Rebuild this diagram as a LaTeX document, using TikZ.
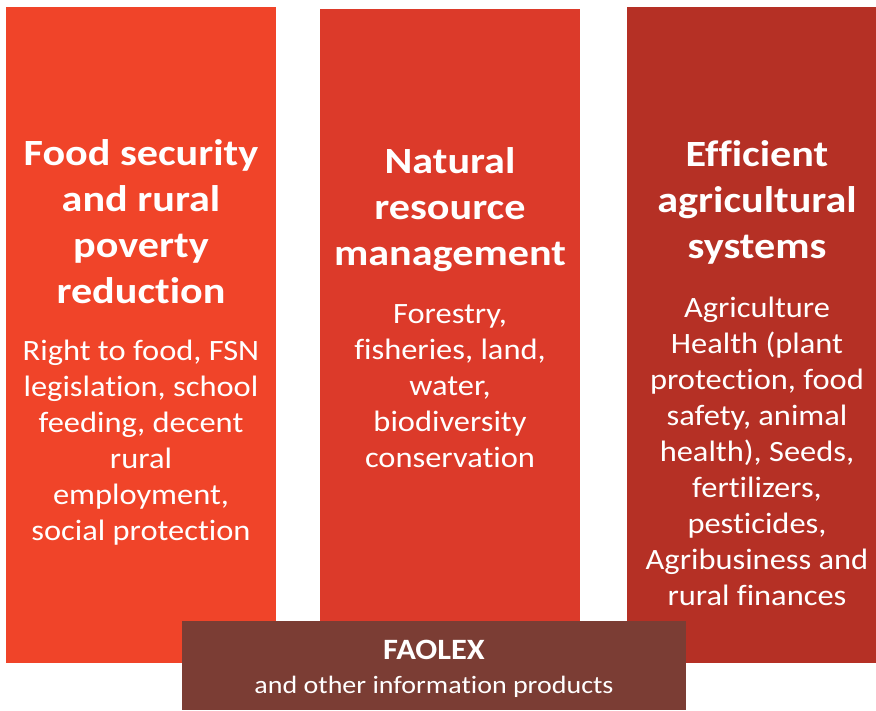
\documentclass[tikz,border=0pt]{standalone}
\usepackage{fontspec}
\setmainfont{Carlito}[Ligatures=NoCommon]
\newfontfamily\ttlfont{Carlito}[FakeStretch=1.14, Ligatures=NoCommon]
\newfontfamily\bdyfont{Carlito}[FakeStretch=1.10, Ligatures=NoCommon]
\newfontfamily\barfont{Carlito}[FakeStretch=1.12, Ligatures=NoCommon]
\definecolor{colA}{HTML}{F04429}
\definecolor{colB}{HTML}{DC3A2A}
\definecolor{colC}{HTML}{B53025}
\definecolor{colD}{HTML}{7B3D34}
\tikzset{
  ttl/.style={font=\ttlfont\fontsize{37}{46}\bfseries\selectfont, text=white, align=center, inner sep=0pt, anchor=north},
  bdy/.style={font=\bdyfont\fontsize{29.5}{36}\selectfont, text=white, align=center, inner sep=0pt, anchor=north},
  barhead/.style={font=\bdyfont\fontsize{29.5}{36}\bfseries\selectfont, text=white, inner sep=0pt, anchor=base},
  bartxt/.style={font=\barfont\fontsize{25}{35}\selectfont, text=white, inner sep=0pt, anchor=base}
}
\begin{document}
\begin{tikzpicture}[x=1pt,y=-1pt]
\useasboundingbox (0,0) rectangle (876,710);
\fill[colA] (6,7) rectangle (276,663);
\fill[colB] (320,9) rectangle (580,650);
\fill[colC] (627,7) rectangle (876,663);
\fill[colD] (182,621) rectangle (686,710);

\node[ttl] (t1) at (141,133) {\rule{0pt}{32pt}Food security\\and rural\\poverty\\reduction};
\node[bdy] (b1) at (141,334) {\rule{0pt}{26pt}Right to food, FSN\\legislation, school\\feeding, decent\\rural\\employment,\\social protection};

\node[ttl] (t2) at (450,141) {\rule{0pt}{32pt}Natural\\resource\\management};
\node[bdy] (b2) at (450,297) {\rule{0pt}{26pt}Forestry,\\fisheries, land,\\water,\\biodiversity\\conservation};

\node[ttl] (t3) at (757,134) {\rule{0pt}{32pt}Efficient\\agricultural\\systems};
\node[bdy] (b3) at (757,291) {\rule{0pt}{26pt}Agriculture\\Health (plant\\protection, food\\safety, animal\\health), Seeds,\\fertilizers,\\pesticides,\\Agribusiness and\\rural finances};

\node[barhead] (f1) at (434,659) {FAOLEX};
\node[bartxt] (f2) at (434,693) {and other information products};
\end{tikzpicture}
\end{document}
